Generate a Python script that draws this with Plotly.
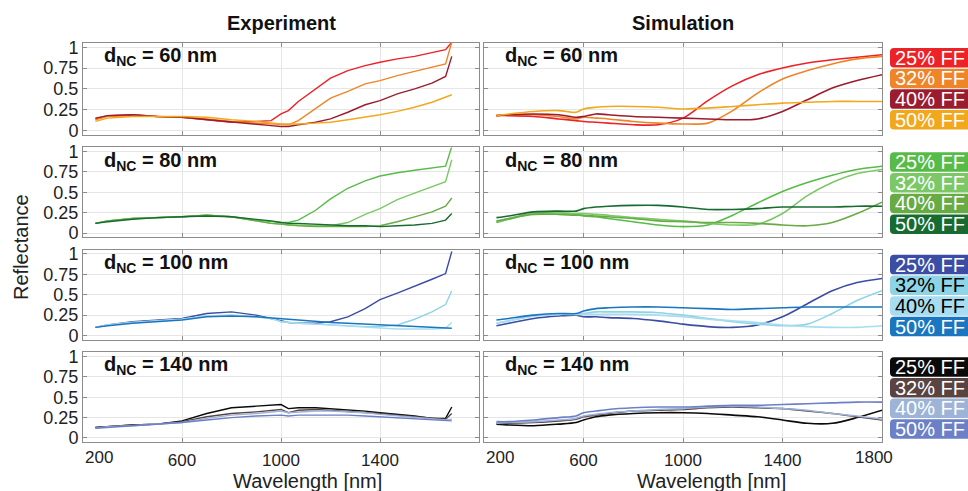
import plotly.graph_objects as go

W, H = 968, 491
OFF = 0

FF_LABELS = ["25% FF", "32% FF", "40% FF", "50% FF"]
D_NC = [60, 80, 100, 140]
X_TICKS = [600, 1000, 1400]
Y_TICKS = [0, 0.25, 0.5, 0.75, 1]
Y_TICKTEXT = ["0", "0.25", "0.5", "0.75", "1"]

WL_EXP = [250, 300, 400, 500, 600, 700, 800, 900, 960, 1000, 1030, 1070,
          1140, 1200, 1270, 1340, 1400, 1470, 1540, 1610, 1665, 1690]
WL_SIM = [250, 300, 400, 500, 570, 600, 650, 700, 800, 900, 1000, 1100,
          1200, 1300, 1400, 1500, 1600, 1700, 1800]

# Experiment, d_NC = 60 nm (25, 32, 40, 50 % FF)
EXP_60_25 = [0.14, 0.18, 0.19, 0.17, 0.16, 0.13, 0.10, 0.11, 0.12, 0.20, 0.24, 0.35, 0.50, 0.63, 0.72, 0.78, 0.82, 0.86, 0.89, 0.93, 0.97, 1.06]
EXP_60_32 = [0.13, 0.17, 0.18, 0.17, 0.16, 0.14, 0.11, 0.09, 0.08, 0.07, 0.07, 0.12, 0.27, 0.39, 0.47, 0.56, 0.60, 0.66, 0.71, 0.76, 0.80, 1.06]
EXP_60_40 = [0.15, 0.18, 0.19, 0.17, 0.16, 0.13, 0.10, 0.07, 0.06, 0.05, 0.05, 0.07, 0.10, 0.14, 0.22, 0.31, 0.36, 0.44, 0.50, 0.57, 0.65, 0.89]
EXP_60_50 = [0.11, 0.15, 0.17, 0.17, 0.17, 0.16, 0.13, 0.11, 0.09, 0.08, 0.08, 0.08, 0.09, 0.10, 0.13, 0.16, 0.19, 0.23, 0.28, 0.34, 0.40, 0.43]
# Experiment, d_NC = 80 nm
EXP_80_25 = [0.12, 0.15, 0.18, 0.19, 0.20, 0.22, 0.20, 0.16, 0.14, 0.13, 0.13, 0.16, 0.28, 0.42, 0.55, 0.64, 0.70, 0.74, 0.77, 0.80, 0.82, 1.06]
EXP_80_32 = [0.12, 0.15, 0.18, 0.19, 0.20, 0.22, 0.20, 0.15, 0.12, 0.11, 0.10, 0.10, 0.09, 0.09, 0.13, 0.23, 0.30, 0.41, 0.49, 0.57, 0.63, 0.90]
EXP_80_40 = [0.12, 0.15, 0.18, 0.19, 0.20, 0.22, 0.20, 0.15, 0.12, 0.11, 0.10, 0.09, 0.08, 0.08, 0.08, 0.08, 0.09, 0.14, 0.20, 0.26, 0.33, 0.43]
EXP_80_50 = [0.12, 0.14, 0.17, 0.19, 0.20, 0.21, 0.20, 0.17, 0.15, 0.13, 0.12, 0.12, 0.11, 0.10, 0.09, 0.09, 0.08, 0.09, 0.10, 0.12, 0.16, 0.24]
# Experiment, d_NC = 100 nm
EXP_100_25 = [0.10, 0.13, 0.17, 0.19, 0.21, 0.27, 0.29, 0.25, 0.21, 0.18, 0.16, 0.15, 0.15, 0.17, 0.23, 0.33, 0.44, 0.52, 0.61, 0.69, 0.76, 1.03]
EXP_100_32 = [0.10, 0.13, 0.16, 0.18, 0.20, 0.24, 0.25, 0.23, 0.21, 0.17, 0.16, 0.15, 0.14, 0.13, 0.12, 0.11, 0.11, 0.13, 0.20, 0.29, 0.38, 0.55]
EXP_100_40 = [0.10, 0.13, 0.16, 0.18, 0.20, 0.24, 0.25, 0.23, 0.21, 0.17, 0.16, 0.15, 0.14, 0.13, 0.11, 0.10, 0.09, 0.08, 0.08, 0.08, 0.09, 0.16]
EXP_100_50 = [0.10, 0.12, 0.15, 0.17, 0.19, 0.23, 0.24, 0.23, 0.22, 0.21, 0.20, 0.19, 0.17, 0.16, 0.15, 0.14, 0.13, 0.12, 0.11, 0.10, 0.09, 0.09]
# Experiment, d_NC = 140 nm
EXP_140_25 = [0.13, 0.14, 0.16, 0.17, 0.21, 0.30, 0.37, 0.39, 0.40, 0.41, 0.36, 0.37, 0.37, 0.36, 0.35, 0.33, 0.31, 0.29, 0.27, 0.24, 0.24, 0.38]
EXP_140_32 = [0.13, 0.14, 0.16, 0.17, 0.20, 0.26, 0.30, 0.32, 0.34, 0.35, 0.31, 0.34, 0.35, 0.34, 0.33, 0.31, 0.30, 0.28, 0.26, 0.24, 0.23, 0.30]
EXP_140_40 = [0.12, 0.14, 0.15, 0.17, 0.19, 0.24, 0.28, 0.30, 0.32, 0.33, 0.31, 0.32, 0.33, 0.33, 0.32, 0.31, 0.29, 0.27, 0.25, 0.23, 0.22, 0.23]
EXP_140_50 = [0.12, 0.13, 0.15, 0.17, 0.19, 0.22, 0.25, 0.27, 0.28, 0.28, 0.27, 0.28, 0.28, 0.28, 0.28, 0.27, 0.26, 0.25, 0.24, 0.22, 0.21, 0.21]

# Simulation, d_NC = 60 nm
SIM_60_25 = [0.18, 0.18, 0.17, 0.14, 0.12, 0.11, 0.10, 0.09, 0.07, 0.07, 0.15, 0.36, 0.54, 0.67, 0.75, 0.81, 0.85, 0.88, 0.91]
SIM_60_32 = [0.18, 0.19, 0.19, 0.17, 0.14, 0.16, 0.15, 0.14, 0.11, 0.09, 0.08, 0.09, 0.24, 0.45, 0.62, 0.72, 0.80, 0.86, 0.89]
SIM_60_40 = [0.18, 0.19, 0.20, 0.19, 0.16, 0.17, 0.20, 0.19, 0.17, 0.16, 0.15, 0.14, 0.13, 0.14, 0.23, 0.37, 0.51, 0.60, 0.67]
SIM_60_50 = [0.18, 0.20, 0.23, 0.24, 0.22, 0.26, 0.28, 0.29, 0.29, 0.28, 0.26, 0.27, 0.29, 0.31, 0.33, 0.34, 0.35, 0.35, 0.35]
# Simulation, d_NC = 80 nm
SIM_80_25 = [0.13, 0.17, 0.24, 0.25, 0.23, 0.21, 0.20, 0.18, 0.14, 0.10, 0.08, 0.10, 0.22, 0.37, 0.51, 0.62, 0.71, 0.78, 0.82]
SIM_80_32 = [0.14, 0.18, 0.24, 0.25, 0.24, 0.24, 0.23, 0.22, 0.19, 0.17, 0.15, 0.12, 0.10, 0.11, 0.24, 0.46, 0.62, 0.73, 0.78]
SIM_80_40 = [0.15, 0.18, 0.23, 0.23, 0.22, 0.22, 0.21, 0.20, 0.18, 0.15, 0.14, 0.13, 0.13, 0.12, 0.10, 0.09, 0.13, 0.24, 0.38]
SIM_80_50 = [0.19, 0.21, 0.26, 0.27, 0.27, 0.30, 0.32, 0.33, 0.34, 0.34, 0.32, 0.29, 0.29, 0.30, 0.32, 0.32, 0.32, 0.33, 0.33]
# Simulation, d_NC = 100 nm
SIM_100_25 = [0.12, 0.15, 0.21, 0.24, 0.25, 0.23, 0.23, 0.22, 0.21, 0.18, 0.14, 0.11, 0.10, 0.13, 0.23, 0.39, 0.55, 0.65, 0.70]
SIM_100_32 = [0.15, 0.18, 0.24, 0.26, 0.26, 0.27, 0.29, 0.29, 0.29, 0.28, 0.25, 0.21, 0.17, 0.14, 0.12, 0.14, 0.27, 0.43, 0.55]
SIM_100_40 = [0.15, 0.18, 0.24, 0.26, 0.26, 0.26, 0.26, 0.26, 0.26, 0.25, 0.23, 0.20, 0.18, 0.16, 0.13, 0.11, 0.10, 0.10, 0.12]
SIM_100_50 = [0.19, 0.21, 0.25, 0.27, 0.27, 0.30, 0.33, 0.34, 0.35, 0.35, 0.34, 0.33, 0.32, 0.33, 0.34, 0.35, 0.35, 0.35, 0.35]
# Simulation, d_NC = 140 nm
SIM_140_25 = [0.17, 0.16, 0.15, 0.17, 0.19, 0.22, 0.26, 0.28, 0.30, 0.31, 0.31, 0.30, 0.28, 0.26, 0.22, 0.18, 0.18, 0.25, 0.34]
SIM_140_32 = [0.18, 0.18, 0.19, 0.21, 0.23, 0.26, 0.28, 0.30, 0.33, 0.34, 0.35, 0.37, 0.38, 0.37, 0.36, 0.33, 0.30, 0.26, 0.22]
SIM_140_40 = [0.18, 0.19, 0.20, 0.22, 0.24, 0.27, 0.29, 0.31, 0.33, 0.35, 0.36, 0.38, 0.39, 0.38, 0.36, 0.34, 0.30, 0.27, 0.23]
SIM_140_50 = [0.20, 0.20, 0.22, 0.25, 0.27, 0.31, 0.33, 0.35, 0.37, 0.38, 0.38, 0.39, 0.40, 0.40, 0.41, 0.42, 0.43, 0.44, 0.44]

EXP = [
    [EXP_60_25, EXP_60_32, EXP_60_40, EXP_60_50],
    [EXP_80_25, EXP_80_32, EXP_80_40, EXP_80_50],
    [EXP_100_25, EXP_100_32, EXP_100_40, EXP_100_50],
    [EXP_140_25, EXP_140_32, EXP_140_40, EXP_140_50],
]
SIM = [
    [SIM_60_25, SIM_60_32, SIM_60_40, SIM_60_50],
    [SIM_80_25, SIM_80_32, SIM_80_40, SIM_80_50],
    [SIM_100_25, SIM_100_32, SIM_100_40, SIM_100_50],
    [SIM_140_25, SIM_140_32, SIM_140_40, SIM_140_50],
]

COLORS = [
    ["#EC2227", "#EE8529", "#9C1C2F", "#F2A81D"],
    ["#57BB48", "#7CC867", "#68AB45", "#176B31"],
    ["#3A4CA3", "#8DD4E6", "#A8DCF1", "#1B76C0"],
    ["#0A0A0A", "#5A4441", "#9DB4D7", "#6B80C7"],
]
TEXT_COLORS = [
    ["white"] * 4,
    ["white"] * 4,
    ["white", "black", "black", "white"],
    ["white"] * 4,
]

# layout geometry (screen pixels)
ROW_TOP = [38, 145, 250, 355]
ROW_BOT = [132, 237, 342, 447]
COL_L = [83, 484]
COL_R = [479, 882]

FONT = "Liberation Sans, Arial, sans-serif"
FRAME = "#8c8c8c"
GRID = "#e6e6e6"
TXT = "#222222"


def fx(px):
    return (px - OFF) / W


def fy(py):
    return 1 - (py - OFF) / H


fig = go.Figure()
annotations = []
shapes = []

for r in range(4):
    for c in range(2):
        idx = r * 2 + c + 1
        xa = "x" if idx == 1 else f"x{idx}"
        ya = "y" if idx == 1 else f"y{idx}"
        data = EXP[r] if c == 0 else SIM[r]
        wl = WL_EXP if c == 0 else WL_SIM
        for k in range(4):
            fig.add_trace(go.Scatter(
                x=wl, y=data[k], xaxis=xa, yaxis=ya, mode="lines",
                line=dict(color=COLORS[r][k], width=1.4 if c == 0 else 1.6,
                          shape="linear" if c == 0 else "spline",
                          smoothing=0 if c == 0 else 0.8),
                showlegend=False, hoverinfo="skip",
            ))
        xkey = "xaxis" if idx == 1 else f"xaxis{idx}"
        ykey = "yaxis" if idx == 1 else f"yaxis{idx}"
        fig.layout[xkey] = dict(
            domain=[fx(COL_L[c]), fx(COL_R[c])], anchor=ya, range=[200, 1800],
            tickvals=X_TICKS, ticktext=[str(v) for v in X_TICKS],
            showticklabels=(r == 3), showgrid=True, gridcolor=GRID, gridwidth=1,
            showline=True, linecolor=FRAME, linewidth=1, mirror="ticks",
            ticks="inside", ticklen=4, tickcolor=FRAME, zeroline=False,
            ticklabelstandoff=3,
            tickfont=dict(family=FONT, size=17, color=TXT),
        )
        fig.layout[ykey] = dict(
            domain=[fy(ROW_BOT[r]), fy(ROW_TOP[r])], anchor=xa, range=[-0.05, 1.05],
            tickvals=Y_TICKS, ticktext=Y_TICKTEXT,
            showticklabels=(c == 0), showgrid=True, gridcolor=GRID, gridwidth=1,
            showline=True, linecolor=FRAME, linewidth=1, mirror="ticks",
            ticks="inside", ticklen=4, tickcolor=FRAME, zeroline=False,
            tickfont=dict(family=FONT, size=18, color=TXT),
        )
        # panel label
        annotations.append(dict(
            x=fx(COL_L[c] + 19), y=fy(ROW_TOP[r] + 14), xref="paper", yref="paper",
            xanchor="left", yanchor="middle", showarrow=False,
            text=f"<b>d<sub>NC</sub> = {D_NC[r]} nm</b>",
            font=dict(family=FONT, size=20, color="#111111"),
        ))
        # end tick labels on bottom row
        if r == 3:
            annotations.append(dict(
                x=200, y=fy(463), xref=xa, yref="paper", xanchor="left", yanchor="middle",
                showarrow=False, text="200", font=dict(family=FONT, size=17, color=TXT),
            ))
            annotations.append(dict(
                x=1808 if c == 0 else 1768, y=fy(463), xref=xa, yref="paper",
                xanchor="right" if c == 0 else "center", yanchor="middle",
                showarrow=False, text="1800", font=dict(family=FONT, size=17, color=TXT),
            ))

    # legend boxes for the row
    for k in range(4):
        cy = ROW_TOP[r] + 15 + 21.2 * k
        y0, y1 = cy - 10, cy + 10
        x0, x1, rad = 890, 975, 4
        pts = (f"M {fx(x0 + rad)},{fy(y0)} L {fx(x1)},{fy(y0)} L {fx(x1)},{fy(y1)} "
               f"L {fx(x0 + rad)},{fy(y1)} Q {fx(x0)},{fy(y1)} {fx(x0)},{fy(y1 - rad)} "
               f"L {fx(x0)},{fy(y0 + rad)} Q {fx(x0)},{fy(y0)} {fx(x0 + rad)},{fy(y0)} Z")
        shapes.append(dict(type="path", xref="paper", yref="paper", path=pts,
                           fillcolor=COLORS[r][k], line=dict(width=0), layer="above"))
        annotations.append(dict(
            x=fx(967), y=fy(cy), xref="paper", yref="paper", xanchor="right", yanchor="middle",
            showarrow=False, text=FF_LABELS[k],
            font=dict(family=FONT, size=20, color=TEXT_COLORS[r][k]),
        ))

# column titles and axis titles
annotations += [
    dict(x=fx((COL_L[0] + COL_R[0]) / 2), y=fy(17), xref="paper", yref="paper",
         xanchor="center", yanchor="middle",
         showarrow=False, text="<b>Experiment</b>", font=dict(family=FONT, size=20, color="#111111")),
    dict(x=fx((COL_L[1] + COL_R[1]) / 2), y=fy(17), xref="paper", yref="paper",
         xanchor="center", yanchor="middle",
         showarrow=False, text="<b>Simulation</b>", font=dict(family=FONT, size=20, color="#111111")),
    dict(x=fx(21), y=fy(247), xref="paper", yref="paper", textangle=-90,
         xanchor="center", yanchor="middle",
         showarrow=False, text="Reflectance", font=dict(family=FONT, size=20, color=TXT)),
    dict(x=fx(307), y=fy(487), xref="paper", yref="paper", xanchor="center", yanchor="middle",
         showarrow=False, text="Wavelength [nm]", font=dict(family=FONT, size=20, color=TXT)),
    dict(x=fx(711), y=fy(487), xref="paper", yref="paper", xanchor="center", yanchor="middle",
         showarrow=False, text="Wavelength [nm]", font=dict(family=FONT, size=20, color=TXT)),
]

fig.update_layout(
    width=W, height=H, margin=dict(l=0, r=0, t=0, b=0),
    paper_bgcolor="white", plot_bgcolor="white",
    annotations=annotations, shapes=shapes, showlegend=False,
)

fig.write_html(
    "out.html",
    config=dict(displayModeBar=False),
    post_script="document.body.style.margin='0';document.body.style.overflow='hidden';",
)
